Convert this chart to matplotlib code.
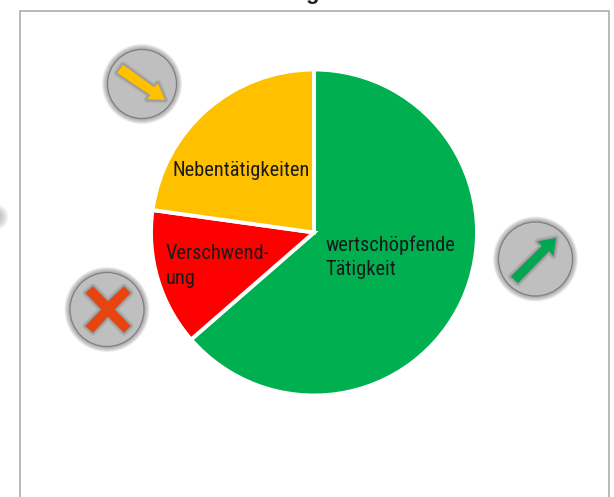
import matplotlib
matplotlib.use("Agg")
import matplotlib.pyplot as plt
from matplotlib import font_manager
from matplotlib.patches import Circle, Polygon, Rectangle

labels = ["wertschöpfende\nTätigkeit", "Verschwend-\nung", "Nebentätigkeiten"]
values = [63.6, 13.6, 22.8]
colors = ["#00B050", "#FF0000", "#FFC000"]

W, H = 614, 497
plt.rcParams["font.family"] = ["Liberation Sans", "DejaVu Sans"]
fig = plt.figure(figsize=(W / 100, H / 100), dpi=100)

# narrow face if there is one, the labels are condensed in the original
installed = {f.name for f in font_manager.fontManager.ttflist}
if "Roboto Condensed" in installed:
    label_font, fs, spacing = "Roboto Condensed", 14.7, 1.36
else:
    label_font, fs, spacing = "Liberation Sans", 13.4, 1.36

# whole figure in pixels, y going down like the picture
bg = fig.add_axes([0, 0, 1, 1])
bg.set_xlim(0, W)
bg.set_ylim(H, 0)
bg.axis("off")
bg.add_patch(Rectangle((19.5, 10.5), 589.5, 500, fc="white", ec="#A6A6A6", lw=1.1))
bg.text(312, -6, "g", fontsize=16, fontweight="bold", ha="center", va="center", color="#222222")

# pie
cx, cy, r = 314, 232.5, 163
ax = fig.add_axes([(cx - r) / W, 1 - (cy + r) / H, 2 * r / W, 2 * r / H])
ax.pie(values, colors=colors, startangle=90, counterclock=False, radius=1,
       wedgeprops=dict(edgecolor="white", linewidth=2.8))
ax.set_xlim(-1, 1)
ax.set_ylim(-1, 1)
ax.axis("off")

top = fig.add_axes([0, 0, 1, 1])
top.set_xlim(0, W)
top.set_ylim(H, 0)
top.axis("off")
top.patch.set_alpha(0)


def badge(x, y, rad):
    for i in range(6, 0, -1):
        top.add_patch(Circle((x, y), rad + i * 0.9, fc="#707070", ec="none", alpha=0.13))
    top.add_patch(Circle((x, y), rad, fc="#BFBFBF", ec="#808080", lw=0.9))


def shape(pts, color):
    for i in range(4, 0, -1):
        top.add_patch(Polygon(pts, closed=True, fc="#595959", ec="#595959", lw=i * 1.2,
                              alpha=0.1, joinstyle="round"))
    top.add_patch(Polygon(pts, closed=True, fc=color, ec="none"))


badge(142, 84, 34.5)
shape([(117, 73), (123, 64.5), (154, 87), (158, 83), (165, 100), (147, 99.5), (150, 95)], "#FFC000")

badge(107, 309.5, 37)
shape([(85.5, 293), (93, 286.5), (108, 301.5), (124, 286.5), (130.5, 293), (114.5, 309.5), (130.5, 326),
       (124, 332.5), (108, 316.5), (93, 332.5), (85.5, 326), (101.5, 309.5)], "#E8440F")

badge(535.5, 259, 37)
shape([(511, 276.5), (542, 246), (537.5, 241.5), (556, 238), (553.5, 256), (549, 251), (518, 283)], "#00A651")

# edge of a badge cut off at the left border
for i in range(6, 0, -1):
    top.add_patch(Circle((-5, 217), 4 + i * 1.5, fc="#999999", ec="none", alpha=0.13))

top.text(172, 171, labels[2], fontsize=fs, family=label_font, va="center", ha="left", color="#1a1a1a")
top.text(166, 266, labels[1], fontsize=fs, family=label_font, va="center", ha="left", color="#1a1a1a",
         linespacing=spacing)
top.text(325, 257, labels[0], fontsize=fs, family=label_font, va="center", ha="left", color="#1a1a1a",
         linespacing=spacing)

fig.savefig("out.png", dpi=100)
